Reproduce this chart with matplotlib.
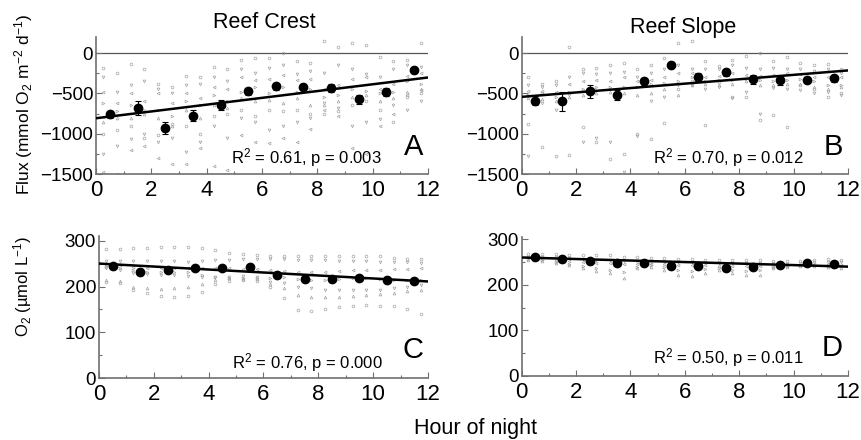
import numpy as np
import matplotlib
matplotlib.use("Agg")
import matplotlib.pyplot as plt

plt.rcParams["font.family"] = ["Liberation Sans", "DejaVu Sans"]
plt.rcParams["mathtext.fontset"] = "custom"
plt.rcParams["mathtext.rm"] = "Liberation Sans"
plt.rcParams["mathtext.it"] = "Liberation Sans:italic"
plt.rcParams["mathtext.default"] = "regular"

# hourly means (+/- SE)
hours = [0.5, 1.5, 2.5, 3.5, 4.5, 5.5, 6.5, 7.5, 8.5, 9.5, 10.5, 11.5]
flux_crest = [-760, -680, -926, -775, -643, -476, -414, -418, -434, -574, -480, -213]
flux_crest_se = [40, 90, 75, 70, 60, 45, 40, 30, 50, 60, 50, 40]
flux_slope = [-590, -597, -472, -522, -352, -153, -298, -240, -327, -340, -336, -315]
flux_slope_se = [60, 120, 80, 60, 40, 30, 50, 40, 60, 50, 40, 40]
o2_crest = [245, 232, 235, 241, 240, 242, 226, 217, 216, 219, 214, 212]
o2_crest_se = [5, 5, 5, 4, 4, 4, 5, 5, 5, 4, 4, 4]
o2_slope = [262, 257, 252, 248, 249, 241, 241, 238, 240, 243, 247, 245]
o2_slope_se = [3, 3, 4, 4, 3, 4, 4, 4, 4, 3, 3, 3]

# regression lines (intercept, slope per hour)
fit_crest_flux = (-808, 42.1)
fit_slope_flux = (-543, 27.3)
fit_crest_o2 = (250, -3.25)
fit_slope_o2 = (260, -1.67)

# individual chamber readings, every half hour
obs_hours = [0.25, 0.75, 1.25, 1.75, 2.25, 2.75, 3.25, 3.75, 4.25, 4.75, 5.25, 5.75,
             6.25, 6.75, 7.25, 7.75, 8.25, 8.75, 9.25, 9.75, 10.25, 10.75, 11.25, 11.75]

crest_flux_obs = [
    [-180, -250, -130, -200, -380, -420, -280, -300, -170, -200, -80, -60, -60, 0, -100, -120, 150, 80, 130, 100, -50, -100, -80, 120],
    [-300, -480, -400, -350, -450, -500, -400, -380, -300, -350, -200, -250, -180, -150, -260, -220, -250, -150, -200, -260, -300, -200, -150, -170],
    [-480, -620, -500, -600, -500, -620, -500, -560, -420, -450, -300, -330, -320, -270, -340, -320, -450, -400, -320, -300, -450, -380, -280, -250],
    [-620, -720, -650, -700, -700, -780, -600, -650, -520, -600, -480, -420, -500, -420, -480, -450, -550, -520, -450, -470, -500, -480, -350, -380],
    [-850, -800, -800, -760, -800, -900, -700, -800, -650, -680, -560, -600, -580, -620, -560, -640, -650, -600, -550, -520, -600, -560, -480, -450],
    [-1000, -950, -900, -1050, -1020, -880, -900, -1000, -780, -750, -700, -780, -700, -720, -700, -750, -760, -720, -650, -600, -700, -850, -550, -500],
    [-1250, -1150, -1060, -1000, -1100, -1050, -1230, -1100, -900, -1050, -800, -850, -950, -900, -860, -800, -620, -680, -900, -850, -820, -650, -700, -600],
    [-1480, -1500, -1200, -1150, -1300, -1380, -1370, -1180, -1400, -1450, -1020, -1100, -1120, -1050, -1100, -940, -700, -780, -1180, -1250, -900, -750, -520, -460],
]
slope_flux_obs = [
    [-300, -380, -350, 70, -200, -180, -150, -120, -200, -150, -60, 120, 150, -100, -160, -80, -40, 0, -100, -50, -120, -150, -130, -200],
    [-400, -420, -400, -300, -250, -260, -250, -230, -300, -250, -200, -150, -200, -200, -200, -150, -180, -200, -180, -200, -200, -220, -200, -250],
    [-470, -470, -480, -380, -350, -330, -350, -300, -350, -330, -300, -250, -250, -300, -280, -250, -270, -280, -270, -250, -260, -300, -300, -300],
    [-520, -500, -540, -480, -450, -420, -420, -420, -420, -380, -370, -350, -300, -350, -330, -330, -320, -330, -350, -330, -320, -350, -400, -400],
    [-560, -570, -600, -550, -520, -500, -480, -500, -520, -500, -450, -520, -400, -380, -400, -380, -350, -400, -400, -380, -380, -420, -450, -420],
    [-880, -1160, -1280, -1270, -920, -1100, -1310, -1250, -1000, -1070, -870, -450, -350, -890, -360, -550, -550, -830, -770, -920, -400, -450, -550, -500],
    [-1280, -620, -700, -520, -1100, -1050, -1100, -1480, -1030, -600, -550, -400, -400, -450, -420, -560, -480, -750, -430, -450, -460, -500, -480, -520],
]
crest_o2_obs = [
    [282, 282, 283, 284, 285, 287, 286, 283, 280, 272, 270, 268, 266, 266, 266, 266, 267, 267, 267, 267, 266, 263, 261, 260],
    [255, 255, 256, 256, 255, 255, 254, 255, 258, 258, 259, 260, 260, 259, 258, 258, 257, 256, 255, 255, 254, 253, 253, 252],
    [247, 246, 243, 241, 240, 240, 240, 241, 240, 240, 239, 238, 236, 234, 232, 231, 232, 234, 236, 237, 237, 238, 239, 240],
    [243, 240, 235, 232, 232, 231, 232, 225, 220, 218, 218, 218, 219, 220, 216, 214, 214, 216, 218, 218, 216, 215, 214, 214],
    [214, 212, 199, 196, 195, 196, 198, 205, 215, 218, 217, 216, 205, 196, 182, 178, 177, 178, 180, 181, 183, 185, 190, 192],
    [210, 208, 192, 185, 180, 178, 179, 188, 205, 212, 214, 212, 200, 175, 148, 146, 150, 155, 158, 159, 158, 157, 150, 141],
    [240, 236, 230, 228, 226, 224, 222, 221, 220, 221, 222, 220, 210, 207, 200, 196, 193, 192, 192, 192, 193, 196, 200, 203],
]
slope_o2_obs = [
    [267, 268, 267, 266, 265, 266, 265, 262, 262, 258, 258, 256, 256, 255, 255, 254, 254, 254, 253, 252, 252, 254, 256, 255],
    [262, 261, 260, 258, 256, 254, 254, 252, 250, 250, 251, 250, 250, 249, 249, 248, 248, 248, 247, 246, 248, 250, 251, 250],
    [258, 256, 254, 252, 250, 249, 248, 246, 246, 246, 246, 244, 243, 243, 242, 242, 241, 241, 240, 242, 244, 246, 246, 244],
    [256, 254, 250, 246, 241, 236, 233, 228, 240, 244, 240, 232, 230, 235, 238, 232, 230, 233, 240, 242, 243, 244, 242, 241],
    [255, 252, 248, 243, 237, 230, 225, 216, 236, 240, 232, 222, 220, 226, 232, 225, 221, 222, 236, 240, 241, 242, 240, 238],
]

stats = ["R$^2$ = 0.61, p = 0.003", "R$^2$ = 0.70, p = 0.012",
         "R$^2$ = 0.76, p = 0.000", "R$^2$ = 0.50, p = 0.011"]
letters = ["A", "B", "C", "D"]

GREY = "#a5a5a5"
SPINE = "#707070"
markers = ["o", "v", "<", ">", "^", "o", "v", "<"]

fig = plt.figure(figsize=(8.62, 4.40), dpi=100)
axA = fig.add_axes([0.1114, 0.6045, 0.3851, 0.3115])
axB = fig.add_axes([0.6052, 0.6045, 0.3785, 0.3115])
axC = fig.add_axes([0.1148, 0.1402, 0.3817, 0.3234])
axD = fig.add_axes([0.6052, 0.1455, 0.3785, 0.3159])

panels = [
    (axA, crest_flux_obs, flux_crest, flux_crest_se, fit_crest_flux, (-1500, 200), 500, 250, 0.117),
    (axB, slope_flux_obs, flux_slope, flux_slope_se, fit_slope_flux, (-1500, 200), 500, 250, 0.117),
    (axC, crest_o2_obs, o2_crest, o2_crest_se, fit_crest_o2, (0, 310), 100, 50, 0.113),
    (axD, slope_o2_obs, o2_slope, o2_slope_se, fit_slope_o2, (0, 305), 100, 50, 0.13),
]

xx = np.array([0, 12])
for i, (ax, obs, mean, se, fit, ylim, major, minor, sy) in enumerate(panels):
    for k, trace in enumerate(obs):
        ax.plot(obs_hours, trace, ls="none", marker=markers[k % len(markers)], ms=2.0,
                mfc="none", mec=GREY, mew=0.5, zorder=2)
    if i < 2:
        ax.axhline(0, color="#555555", lw=0.9, zorder=1)
    ax.plot(xx, fit[0] + fit[1] * xx, color="black", lw=1.8, zorder=3)
    ax.errorbar(hours, mean, yerr=se, fmt="o", color="black", ms=6, elinewidth=0.8,
                capsize=2, capthick=0.8, zorder=4)
    ax.set_xlim(0, 12)
    ax.set_ylim(*ylim)
    top = 200 if i < 2 else 300
    ax.set_xticks(np.arange(0, 13, 2))
    ax.set_xticks(np.arange(0, 13, 1), minor=True)
    ax.set_yticks(np.arange(ylim[0], top + 1, major))
    ax.set_yticks(np.arange(ylim[0], top + 1, minor), minor=True)
    for s in ["top", "right"]:
        ax.spines[s].set_visible(False)
    for s in ["left", "bottom"]:
        ax.spines[s].set_color(SPINE)
        ax.spines[s].set_linewidth(1.2)
    ax.tick_params(which="both", direction="in", color=SPINE, width=0.8)
    ax.tick_params(which="major", length=4)
    ax.tick_params(which="minor", length=2)
    ax.tick_params(axis="x", labelsize=16, pad=4)
    ax.tick_params(axis="y", labelsize=13.5, pad=2)
    ax.text(0.985, 0.2, letters[i], transform=ax.transAxes, fontsize=21,
            ha="right", va="center")
    ax.text(0.633, sy, stats[i], transform=ax.transAxes, fontsize=12,
            ha="center", va="center")

fig.text(264 / 862, 1 - 23 / 440, "Reef Crest", fontsize=15.5, ha="center", va="center")
fig.text(683 / 862, 1 - 27 / 440, "Reef Slope", fontsize=15.5, ha="center", va="center")
fig.text(24 / 862, 1 - 104 / 440, "Flux (mmol O$_2$ m$^{-2}$ d$^{-1}$)", rotation=90,
         fontsize=12.5, ha="center", va="center")
fig.text(23 / 862, 1 - 287 / 440, "O$_2$ (µmol L$^{-1}$)", rotation=90,
         fontsize=12, ha="center", va="center")
fig.text(476 / 862, 1 - 428 / 440, "Hour of night", fontsize=15.5, ha="center", va="center")

fig.savefig("out.png", dpi=100)
